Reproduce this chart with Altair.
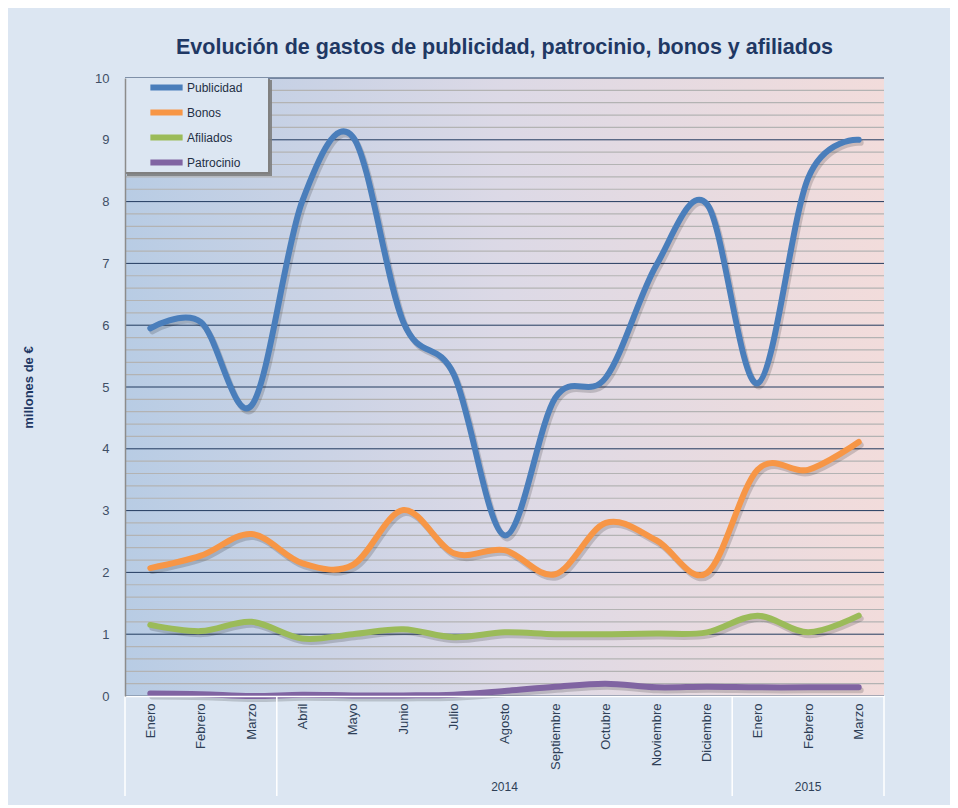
import altair as alt
import pandas as pd

# ---------------- data ----------------
months = ["Enero", "Febrero", "Marzo", "Abril", "Mayo", "Junio", "Julio", "Agosto",
          "Septiembre", "Octubre", "Noviembre", "Diciembre", "Enero", "Febrero", "Marzo"]
series_names = ["Publicidad", "Bonos", "Afiliados", "Patrocinio"]
series_colors = ["#4a7ebb", "#f79646", "#9bbb59", "#8064a2"]

publicidad = [5.95, 6.05, 4.70, 8.00, 9.05, 6.05, 5.20, 2.60, 4.82, 5.15, 6.97, 7.96, 5.06, 8.38, 9.00]
bonos = [2.07, 2.27, 2.62, 2.15, 2.12, 3.01, 2.31, 2.36, 1.97, 2.80, 2.52, 1.99, 3.66, 3.66, 4.11]
afiliados = [1.15, 1.05, 1.20, 0.93, 1.00, 1.08, 0.95, 1.03, 1.00, 1.00, 1.01, 1.03, 1.30, 1.03, 1.30]
patrocinio = [0.04, 0.03, 0.00, 0.02, 0.01, 0.01, 0.02, 0.08, 0.15, 0.20, 0.14, 0.15, 0.14, 0.14, 0.14]

year_labels = ["", "2014", "2015"]
year_start = [0, 3, 12]
year_end = [2, 11, 14]

y_major = list(range(0, 11))
y_minor = [round(i * 0.2, 1) for i in range(51) if i % 5 != 0]

# ---------------- tables ----------------
values = [publicidad, bonos, afiliados, patrocinio]
rows = []
for name, vals in zip(series_names, values):
    for i, v in enumerate(vals):
        rows.append({"idx": i, "serie": name, "value": v, "order": series_names.index(name)})
df = pd.DataFrame(rows)

bounds = sorted(set([s - 0.5 for s in year_start] + [year_end[-1] + 0.5]))
df_sep = pd.DataFrame({"b": bounds})
df_years = pd.DataFrame({"year": year_labels,
                         "c": [(s + e) / 2 for s, e in zip(year_start, year_end)]})
df_major = pd.DataFrame({"g": y_major})
df_minor = pd.DataFrame({"g": y_minor})

W, H = 759, 618
label_expr = "[" + ",".join("'" + m + "'" for m in months) + "][datum.value]"

xscale = alt.Scale(domain=[-0.5, len(months) - 0.5], nice=False, zero=False)
yscale = alt.Scale(domain=[0, 10], nice=False, zero=True)

x_axis = alt.Axis(values=list(range(len(months))), labelExpr=label_expr,
                  labelAngle=-90, labelFontSize=13, labelColor="#2e3f57",
                  labelFont="Liberation Sans", labelPadding=7,
                  ticks=False, grid=False, domainColor="#ffffff",
                  domainWidth=1.5, title="", zindex=1)
y_axis = alt.Axis(values=y_major, grid=False, ticks=False,
                  labelFontSize=13, labelColor="#3f4f66",
                  labelFont="Liberation Sans", labelPadding=16,
                  domainColor="#8c8c8c", domainWidth=1.5,
                  title="millones de €", titleFontSize=13,
                  titleFont="Liberation Sans", titleFontWeight="bold",
                  titleColor="#1f3864", titlePadding=59, zindex=1)

gradient = alt.LinearGradient(
    gradient="linear",
    stops=[alt.GradientStop(color="#b8cce4", offset=0),
           alt.GradientStop(color="#dcd9e6", offset=0.5),
           alt.GradientStop(color="#f2dcdb", offset=1)],
    x1=0, x2=1, y1=0, y2=0,
)

bg = alt.Chart(df_major).mark_rect(fill=gradient).encode(
    x=alt.datum(-0.5, type="quantitative", scale=xscale, axis=x_axis),
    x2=alt.datum(len(months) - 0.5),
    y=alt.datum(0, type="quantitative", scale=yscale, axis=y_axis),
    y2=alt.datum(10),
)

minor = alt.Chart(df_minor).mark_rule(color="#b3b3b3", strokeWidth=1.2).encode(
    y=alt.Y("g:Q", scale=yscale, axis=y_axis)
)
major = alt.Chart(df_major).mark_rule(color="#223a5e", strokeWidth=1).encode(
    y=alt.Y("g:Q", scale=yscale, axis=y_axis)
)

legend_shadow1 = alt.Chart(df_major).mark_rect(fill="#7f7f7f", opacity=0.18).encode(
    x=alt.value(2), x2=alt.value(147), y=alt.value(2), y2=alt.value(98)
)
legend_shadow2 = alt.Chart(df_major).mark_rect(fill="#7f7f7f", opacity=0.22).encode(
    x=alt.value(1), x2=alt.value(145), y=alt.value(1), y2=alt.value(96)
)
legend_box = alt.Chart(df_major).mark_rect(fill="#dce6f2").encode(
    x=alt.value(0), x2=alt.value(143), y=alt.value(0), y2=alt.value(94)
)

line_shadow = alt.Chart(df).mark_line(
    interpolate="cardinal", strokeWidth=6, color="#000000", opacity=0.16,
    xOffset=2, yOffset=3, strokeCap="round"
).encode(
    x=alt.X("idx:Q", scale=xscale, axis=x_axis),
    y=alt.Y("value:Q", scale=yscale, axis=y_axis),
    detail="serie:N",
)

lines = alt.Chart(df).mark_line(
    interpolate="cardinal", strokeWidth=6, strokeCap="round"
).encode(
    x=alt.X("idx:Q", scale=xscale, axis=x_axis),
    y=alt.Y("value:Q", scale=yscale, axis=y_axis),
    color=alt.Color("serie:N",
                    scale=alt.Scale(domain=series_names, range=series_colors),
                    legend=alt.Legend(
                        title=None, orient="none", legendX=30, legendY=-2,
                        symbolType="M-2,0L2,0", symbolSize=260,
                        symbolStrokeWidth=6, symbolOffset=0,
                        labelFontSize=12, labelColor="#1f2f45",
                        labelFont="Liberation Sans", labelOffset=9,
                        rowPadding=0, padding=0)),
    order="order:Q",
)

seps = alt.Chart(df_sep).mark_rule(color="#ffffff", strokeWidth=1.5).encode(
    x=alt.X("b:Q", scale=xscale, axis=x_axis),
    y=alt.value(H),
    y2=alt.value(H + 100),
)

years = alt.Chart(df_years).mark_text(
    fontSize=12, color="#2e3f57", font="Liberation Sans", baseline="middle"
).encode(
    x=alt.X("c:Q", scale=xscale, axis=x_axis),
    y=alt.value(H + 91),
    text="year:N",
)

chart = alt.layer(
    bg, minor, major, legend_shadow1, legend_shadow2, legend_box,
    line_shadow, lines, seps, years
).properties(
    width=W, height=H,
    title=alt.TitleParams(
        "Evolución de gastos de publicidad, patrocinio, bonos y afiliados",
        fontSize=21.5, font="Liberation Sans Narrow, Liberation Sans, sans-serif",
        fontWeight="bold", color="#1f3864", anchor="middle", offset=14),
    autosize=alt.AutoSizeParams(type="none"),
    padding={"left": 117, "top": 70, "right": 66, "bottom": 109},
    background="#dce6f2",
).configure_view(stroke="transparent")

chart.save("out.html", embed_options={"renderer": "svg", "actions": False})
